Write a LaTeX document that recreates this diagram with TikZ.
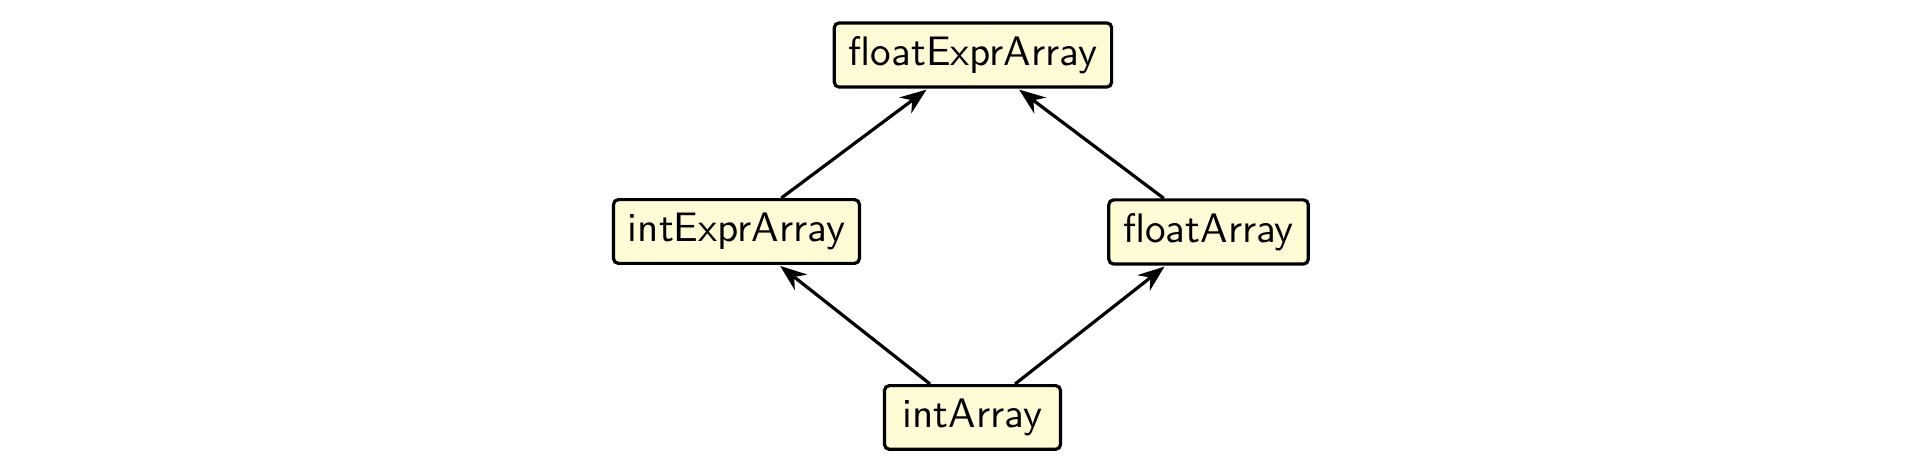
\documentclass[tikz,border=0pt]{standalone}
\usepackage{xcolor}
\usepackage{tikz}
\usetikzlibrary{arrows.meta, positioning}

\definecolor{boxfill}{RGB}{255,251,214}

\begin{document}
\begin{tikzpicture}[>=Stealth, font=\sffamily\fontsize{10.3pt}{12pt}\selectfont,
	typebox/.style={draw, thick, fill=boxfill, rounded corners=1.2pt,
		inner xsep=3.6pt, minimum height=15.25pt, minimum width=44pt},
	subtype/.style={->, thick, shorten >=0.4pt}]
	\useasboundingbox (0,0) rectangle (16.888,-4.156);
	\node[typebox] (floatExpr) at (8.549,-0.483) {floatExprArray};
	\node[typebox] (intExpr) at (6.471,-2.034) {intExprArray};
	\node[typebox] (float) at (10.619,-2.038) {floatArray};
	\node[typebox] (int) at (8.545,-3.668) {intArray};
	\draw[subtype] (intExpr) -- (floatExpr);
	\draw[subtype] (float) -- (floatExpr);
	\draw[subtype] (int) -- (intExpr);
	\draw[subtype] (int) -- (float);
\end{tikzpicture}
\end{document}
